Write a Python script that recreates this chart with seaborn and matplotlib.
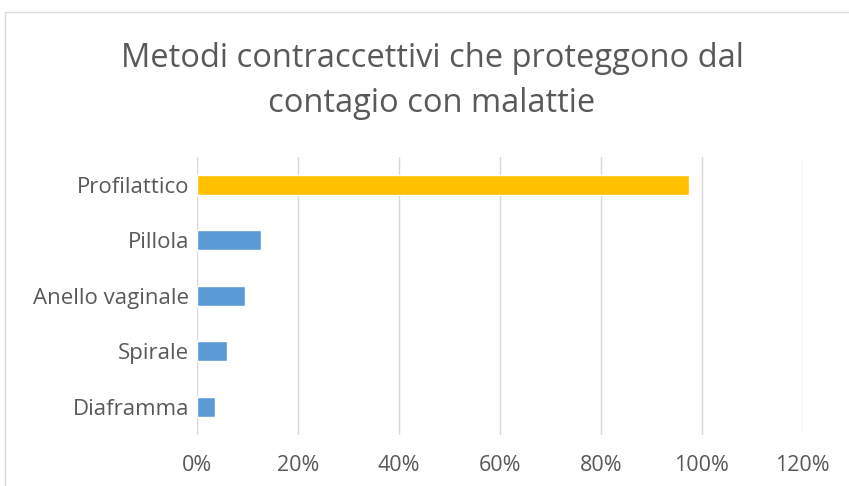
import matplotlib
matplotlib.use("Agg")
import matplotlib.pyplot as plt
from matplotlib.patches import Rectangle
from matplotlib.ticker import PercentFormatter
import seaborn as sns
import pandas as pd

# Data
metodi = ["Profilattico", "Pillola", "Anello vaginale", "Spirale", "Diaframma"]
quote = [0.975, 0.127, 0.096, 0.060, 0.036]
colori = ["#FFC000", "#5B9BD5", "#5B9BD5", "#5B9BD5", "#5B9BD5"]
xticks = [0, 0.2, 0.4, 0.6, 0.8, 1.0, 1.2]

titolo = "Metodi contraccettivi che proteggono dal\ncontagio con malattie"

sns.set_theme(style="white")
plt.rcParams["font.family"] = ["Open Sans", "DejaVu Sans"]

df = pd.DataFrame({"metodo": metodi, "quota": quote})

W, H = 849, 486
fig = plt.figure(figsize=(W / 100, H / 100), dpi=100)
fig.patch.set_facecolor("white")

# chart frame
fig.patches.append(Rectangle((5 / W, -0.01), 1.0, 1 - 12 / H + 0.01,
                             transform=fig.transFigure, fill=False,
                             edgecolor="#D9D9D9", linewidth=1.0))

ax = fig.add_axes([196.7 / W, 51.5 / H, 606 / W, 277.5 / H])
sns.barplot(data=df, x="quota", y="metodo", hue="metodo", palette=colori,
            orient="h", width=0.355, legend=False, ax=ax, saturation=1)

ax.set_xlim(0, 1.2)
ax.set_ylim(4.5, -0.5)
ax.set_xticks(xticks)
ax.xaxis.set_major_formatter(PercentFormatter(1.0, decimals=0))
ax.grid(axis="x", color="#D9D9D9", linewidth=1.0)
ax.set_axisbelow(True)
for s in ax.spines.values():
    s.set_visible(False)
ax.set_xlabel("")
ax.set_ylabel("")
ax.tick_params(axis="x", length=0, pad=15, labelsize=15.5, labelcolor="#595959")
ax.tick_params(axis="y", length=0, pad=5.5, labelsize=16, labelcolor="#595959")

fig.text(432 / W, 1 - 81 / H, titolo, ha="center", va="center", fontsize=23.5,
         color="#595959", linespacing=1.5)

fig.savefig("out.png", dpi=100)
